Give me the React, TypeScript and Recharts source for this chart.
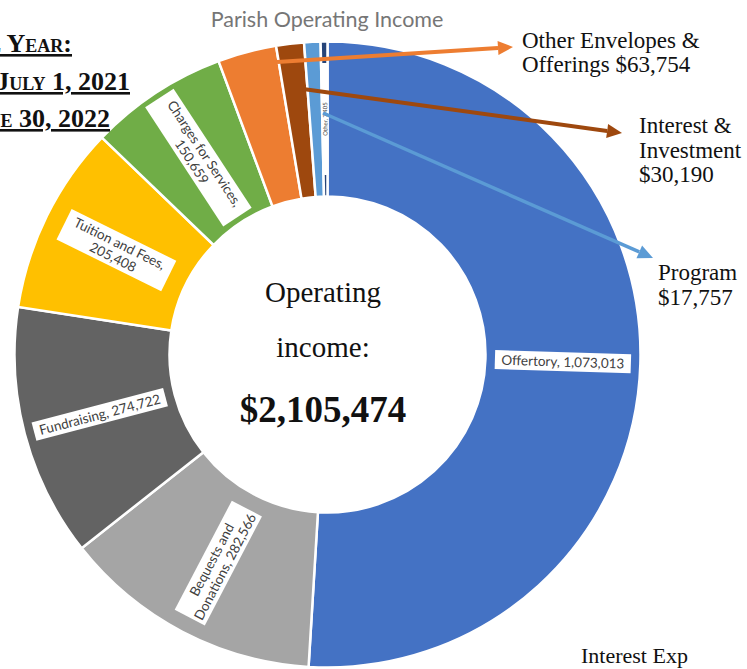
import React from "react";
import { PieChart, Pie, Cell } from "recharts";

const categories = [
  "Offertory",
  "Bequests and Donations",
  "Fundraising",
  "Tuition and Fees",
  "Charges for Services",
  "Other Envelopes & Offerings",
  "Interest & Investment",
  "Program",
  "Other",
];
const amounts = [1073013, 282566, 274722, 205408, 150659, 63754, 30190, 17757, 7405];
const sliceLabels = [
  ["Offertory, 1,073,013"],
  ["Bequests and", "Donations, 282,566"],
  ["Fundraising, 274,722"],
  ["Tuition and Fees,", "205,408"],
  ["Charges for Services,", "150,659"],
  [],
  [],
  [],
  ["Other, 7,405"],
];
const calloutTexts = [
  ["Other Envelopes &", "Offerings $63,754"],
  ["Interest &", "Investment", "$30,190"],
  ["Program", "$17,757"],
];
const headerLines = ["Fiscal Year:", "July 1, 2021", "June 30, 2022"];
const centerLines = ["Operating", "income:"];
const totalText = "$2,105,474";
const footNote = "Interest Exp";

const colors = ["#4472C4", "#A5A5A5", "#636363", "#FFC000", "#70AD47", "#ED7D31", "#9E480E", "#5B9BD5", "#264478"];

const data = categories.map((name, i) => ({ name, value: amounts[i] }));

const CX = 327.5;
const CY = 354.5;

// arrows: start point in slice, arrow tip, colour, width
const arrows = [
  { x1: 277, y1: 62, x2: 513, y2: 47, color: "#ED7D31", w: 4 },
  { x1: 303, y1: 89, x2: 622, y2: 133, color: "#9E480E", w: 4 },
  { x1: 323, y1: 113, x2: 653, y2: 258, color: "#5B9BD5", w: 3.5 },
];
const calloutPos = [
  { x: 522, y: 48, lh: 24 },
  { x: 639, y: 133, lh: 24.5 },
  { x: 658, y: 280, lh: 25 },
];

const renderLabel = (props: any) => {
  const { cx, cy, midAngle, innerRadius, outerRadius, index } = props;
  const lines = sliceLabels[index];
  if (!lines || lines.length === 0) return null;
  const r = (innerRadius + outerRadius) / 2;
  const rad = (-midAngle * Math.PI) / 180;
  const x = cx + r * Math.cos(rad);
  const y = cy + r * Math.sin(rad);
  let rot = -midAngle;
  while (rot > 80) rot -= 180;
  while (rot <= -100) rot += 180;
  const tiny = index === 8;
  const fs = tiny ? 6 : 13.5;
  const lh = 15;
  const maxLen = Math.max(...lines.map((l) => l.length));
  const bw = tiny ? 112 : maxLen * 6.4 + 8;
  const bh = tiny ? 6 : lines.length * lh + 4;
  return (
    <g transform={`translate(${x},${y}) rotate(${rot})`}>
      <rect x={-bw / 2} y={-bh / 2} width={bw} height={bh} fill="#fff" />
      {lines.map((l, i) => (
        <text
          key={i}
          x={0}
          y={(i - (lines.length - 1) / 2) * lh}
          textAnchor="middle"
          dominantBaseline="central"
          fontFamily="Lato, 'Open Sans', sans-serif"
          fontSize={fs}
          fill="#404040"
        >
          {l}
        </text>
      ))}
    </g>
  );
};

function Arrow({ a }: { a: (typeof arrows)[number] }) {
  const dx = a.x2 - a.x1;
  const dy = a.y2 - a.y1;
  const len = Math.sqrt(dx * dx + dy * dy);
  const ux = dx / len;
  const uy = dy / len;
  const hl = 15;
  const hw = 7;
  const bx = a.x2 - ux * hl;
  const by = a.y2 - uy * hl;
  return (
    <g>
      <line x1={a.x1} y1={a.y1} x2={bx} y2={by} stroke={a.color} strokeWidth={a.w} />
      <polygon
        points={`${a.x2},${a.y2} ${bx - uy * hw},${by + ux * hw} ${bx + uy * hw},${by - ux * hw}`}
        fill={a.color}
      />
    </g>
  );
}

export default function App() {
  const serif = "'Liberation Serif', 'Times New Roman', serif";
  return (
    <div style={{ position: "absolute", left: 0, top: 0, width: 747, height: 669, background: "#fff" }}>
      <PieChart width={747} height={669} margin={{ top: 0, right: 0, bottom: 0, left: 0 }}>
        <Pie
          data={data}
          dataKey="value"
          nameKey="name"
          cx={CX}
          cy={CY}
          innerRadius={158}
          outerRadius={313}
          startAngle={90}
          endAngle={-270}
          stroke="#fff"
          strokeWidth={2.5}
          label={renderLabel}
          labelLine={false}
          isAnimationActive={false}
        >
          {data.map((d, i) => (
            <Cell key={d.name} fill={colors[i]} />
          ))}
        </Pie>
      </PieChart>
      <svg
        width={747}
        height={669}
        style={{ position: "absolute", left: 0, top: 0, pointerEvents: "none" }}
      >
        <text x={327} y={27} textAnchor="middle" fontFamily="Lato, sans-serif" fontSize={21.5} fill="#767676">
          Parish Operating Income
        </text>
        {headerLines.map((t, i) => (
          <text
            key={t}
            x={[72, 130, 110][i]}
            y={[52, 90, 127][i]}
            textAnchor="end"
            fontFamily={serif}
            fontWeight="bold"
            fontSize={26}
            fill="#111"
            style={{ fontVariant: "small-caps", textDecoration: "underline" }}
          >
            {t}
          </text>
        ))}
        {centerLines.map((t, i) => (
          <text key={t} x={323} y={302 + i * 55} textAnchor="middle" fontFamily={serif} fontSize={29} fill="#111">
            {t}
          </text>
        ))}
        <text x={323} y={422} textAnchor="middle" fontFamily={serif} fontWeight="bold" fontSize={37} fill="#111">
          {totalText}
        </text>
        {arrows.map((a, i) => (
          <Arrow key={i} a={a} />
        ))}
        {calloutTexts.map((lines, i) =>
          lines.map((l, j) => (
            <text
              key={`${i}-${j}`}
              x={calloutPos[i].x}
              y={calloutPos[i].y + j * calloutPos[i].lh}
              fontFamily={serif}
              fontSize={23}
              fill="#111"
            >
              {l}
            </text>
          ))
        )}
        <text x={581} y={663} fontFamily={serif} fontSize={22} fill="#111">
          {footNote}
        </text>
      </svg>
    </div>
  );
}
